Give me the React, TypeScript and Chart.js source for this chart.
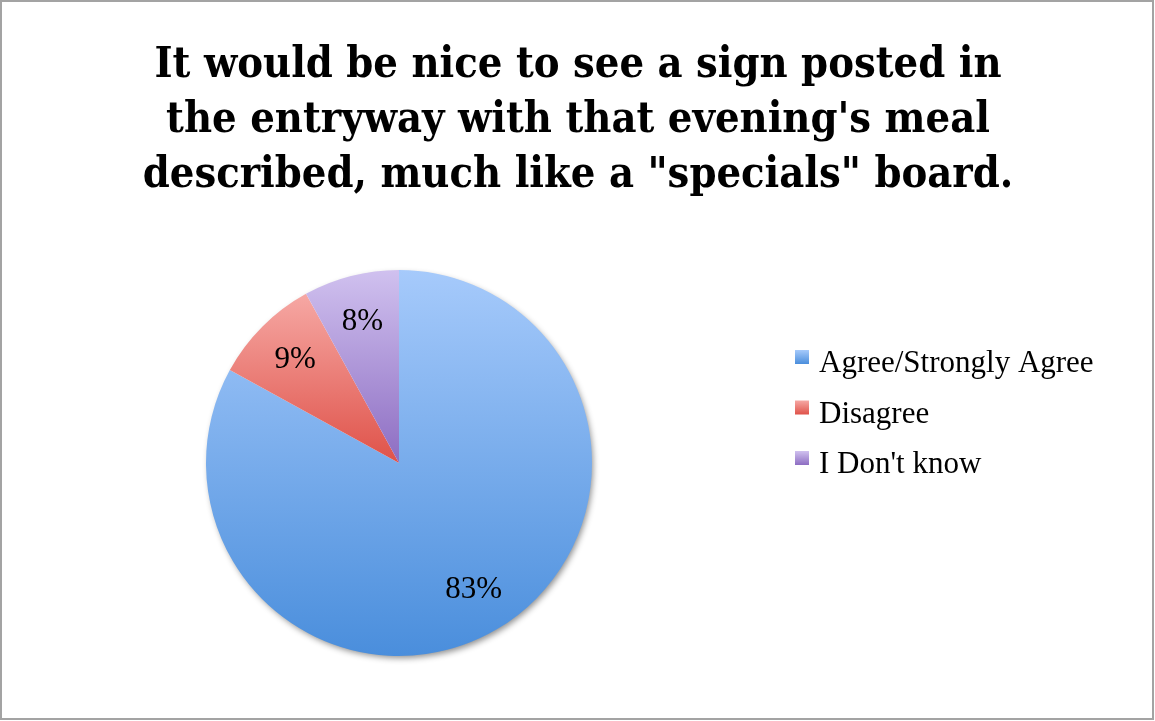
import React, { useEffect, useRef } from "react";
import { Chart, registerables } from "chart.js";

Chart.register(...registerables);

const titleLines = [
  "It would be nice to see a sign posted in",
  "the entryway with that evening's meal",
  'described, much like a "specials" board.',
];
const categories = ["Agree/Strongly Agree", "Disagree", "I Don't know"];
const values = [83, 9, 8];
const topColors = ["#a6cafb", "#f6a8a4", "#d0c1ef"];
const bottomColors = ["#4a8edc", "#df5249", "#8d6dc2"];

function sliceYRange(cy: number, r: number, a0: number, a1: number) {
  const ys = [cy, cy + r * Math.sin(a0), cy + r * Math.sin(a1)];
  for (let k = -2; k <= 4; k++) {
    const a = -Math.PI / 2 + k * Math.PI;
    if (a >= a0 && a <= a1) ys.push(cy + r * Math.sin(a));
  }
  return [Math.min(...ys), Math.max(...ys)];
}

const gradientPlugin = {
  id: "sliceGradients",
  beforeDatasetsDraw(chart: any) {
    const meta = chart.getDatasetMeta(0);
    const ctx = chart.ctx;
    if (!meta.data.length) return;
    const a0 = meta.data[0];
    ctx.save();
    ctx.beginPath();
    ctx.arc(a0.x, a0.y, a0.outerRadius - 1, 0, Math.PI * 2);
    ctx.fillStyle = "#ffffff";
    ctx.shadowColor = "rgba(0,0,0,0.45)";
    ctx.shadowBlur = 6;
    ctx.shadowOffsetX = 2;
    ctx.shadowOffsetY = 3;
    ctx.fill();
    ctx.restore();
  },
  afterDatasetsDraw(chart: any) {
    const meta = chart.getDatasetMeta(0);
    const ctx = chart.ctx;
    ctx.save();
    ctx.fillStyle = "#000";
    ctx.font = "31px 'Liberation Serif'";
    ctx.textAlign = "center";
    ctx.textBaseline = "middle";
    const total = values.reduce((s, v) => s + v, 0);
    meta.data.forEach((arc: any, i: number) => {
      const mid = (arc.startAngle + arc.endAngle) / 2;
      const rr = arc.outerRadius * 0.76;
      const pct = Math.round((values[i] / total) * 100) + "%";
      ctx.fillText(pct, arc.x + rr * Math.cos(mid), arc.y + rr * Math.sin(mid) + 1);
    });
    ctx.restore();
  },
  afterDraw(chart: any) {
    const ctx = chart.ctx;
    // title
    ctx.save();
    ctx.fillStyle = "#000";
    ctx.font = "bold 43px 'DejaVu Serif Condensed', 'DejaVu Serif'";
    ctx.textAlign = "center";
    ctx.textBaseline = "alphabetic";
    titleLines.forEach((line, i) => {
      ctx.fillText(line, 578, 77 + i * 55);
    });
    ctx.restore();

    // legend
    const x = 795;
    const y0 = 372;
    const step = 50.5;
    ctx.save();
    ctx.font = "31px 'Liberation Serif'";
    ctx.textAlign = "left";
    ctx.textBaseline = "alphabetic";
    categories.forEach((label, i) => {
      const by = y0 + i * step;
      const g = ctx.createLinearGradient(0, by - 22, 0, by - 8);
      g.addColorStop(0, topColors[i]);
      g.addColorStop(1, bottomColors[i]);
      ctx.fillStyle = g;
      ctx.fillRect(x, by - 22, 14, 14);
      ctx.fillStyle = "#000";
      ctx.fillText(label, x + 24, by);
    });
    ctx.restore();
  },
};

export default function App() {
  const ref = useRef<HTMLCanvasElement | null>(null);
  useEffect(() => {
    document.body.style.margin = "0";
    if (!ref.current) return;
    const chart = new Chart(ref.current, {
      type: "pie",
      data: {
        labels: categories,
        datasets: [
          {
            data: values,
            borderWidth: 0,
            backgroundColor: (c: any) => {
              const ch = c.chart;
              const area = ch.chartArea;
              const i = c.dataIndex;
              if (!area) return bottomColors[i];
              const cx = (area.left + area.right) / 2;
              const cy = (area.top + area.bottom) / 2;
              const r = Math.min(area.right - area.left, area.bottom - area.top) / 2;
              const total = values.reduce((s, v) => s + v, 0);
              let before = 0;
              for (let k = 0; k < i; k++) before += values[k];
              const a0 = -Math.PI / 2 + (before / total) * Math.PI * 2;
              const a1 = a0 + (values[i] / total) * Math.PI * 2;
              const [yMin, yMax] = sliceYRange(cy, r, a0, a1);
              const g = ch.ctx.createLinearGradient(cx, yMin, cx, yMax);
              g.addColorStop(0, topColors[i]);
              g.addColorStop(1, bottomColors[i]);
              return g;
            },
          },
        ],
      },
      options: {
        responsive: false,
        animation: false,
        layout: { padding: { top: 270, bottom: 65, left: 206, right: 563 } },
        plugins: {
          legend: { display: false },
          tooltip: { enabled: false },
          title: { display: false },
        },
      },
      plugins: [gradientPlugin],
    });
    return () => chart.destroy();
  }, []);
  return (
    <div style={{ position: "relative", width: 1155, height: 721, background: "#fff" }}>
      <canvas ref={ref} width={1155} height={721} style={{ position: "absolute", left: 0, top: 0 }} />
      <div
        style={{
          position: "absolute",
          left: 0,
          top: 0,
          width: 1154,
          height: 720,
          boxSizing: "border-box",
          border: "2px solid #a3a3a3",
          pointerEvents: "none",
        }}
      />
    </div>
  );
}
